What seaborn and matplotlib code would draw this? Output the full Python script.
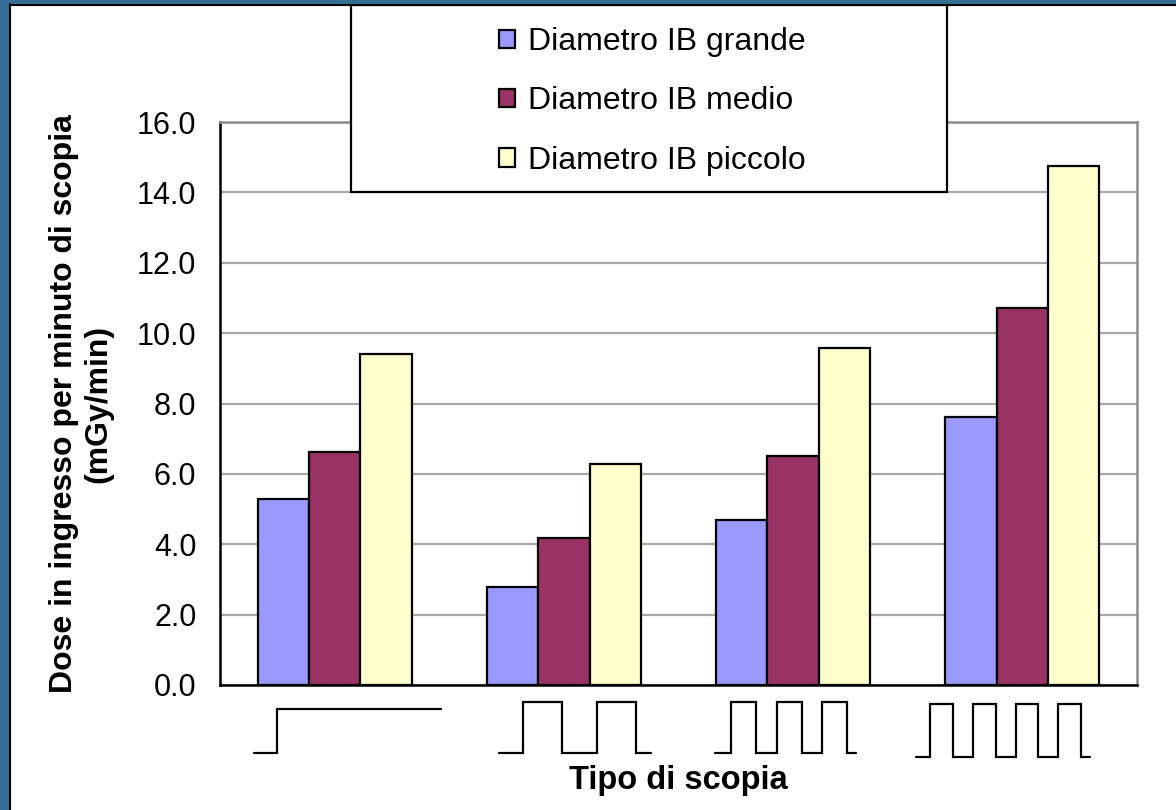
import numpy as np
import pandas as pd
import matplotlib
matplotlib.use("Agg")
import matplotlib.pyplot as plt
import matplotlib.transforms as mtransforms
from matplotlib.patches import Rectangle
from matplotlib.lines import Line2D
import seaborn as sns

# ---------------- data ----------------
categories = ["Continua", "Pulsata bassa", "Pulsata media", "Pulsata alta"]
pulses = [0, 2, 3, 4]  # pulses drawn in the category icon (0 = continuous)
series = ["Diametro IB grande", "Diametro IB medio", "Diametro IB piccolo"]
grande = [5.3, 2.78, 4.69, 7.61]
medio = [6.62, 4.19, 6.51, 10.70]
piccolo = [9.41, 6.27, 9.57, 14.76]
colors = ["#9999FF", "#993366", "#FFFFCC"]
y_ticks = [0, 2, 4, 6, 8, 10, 12, 14, 16]

df = pd.DataFrame({
    "tipo": categories * 3,
    "diametro": [series[0]] * 4 + [series[1]] * 4 + [series[2]] * 4,
    "dose": grande + medio + piccolo,
})

sns.set_style("white")
plt.rcParams["font.family"] = ["Liberation Sans", "DejaVu Sans"]
plt.rcParams["text.color"] = "black"
plt.rcParams["axes.labelcolor"] = "black"
plt.rcParams["xtick.color"] = "black"
plt.rcParams["ytick.color"] = "black"

W, H = 1176, 810
fig = plt.figure(figsize=(W / 100, H / 100), dpi=100)
fig.patch.set_facecolor("white")

ax_l, ax_r, ax_t, ax_b = 220, 1137, 122, 685
ax = fig.add_axes([ax_l / W, 1 - ax_b / H, (ax_r - ax_l) / W, (ax_b - ax_t) / H])

sns.barplot(data=df, x="tipo", y="dose", hue="diametro", hue_order=series,
            order=categories, palette=colors, edgecolor="black", linewidth=1.6,
            width=0.672, gap=0, saturation=1, ax=ax, zorder=3)

handles, labels = ax.get_legend_handles_labels()
if ax.get_legend() is not None:
    ax.get_legend().remove()

ax.set_ylim(0, 16)
ax.set_xlim(-0.5, len(categories) - 0.5)
ax.set_yticks(y_ticks)
ax.set_yticklabels([f"{v:.1f}" for v in y_ticks], fontsize=22, color="black")
ax.set_xticks(np.arange(len(categories) + 1) - 0.5)
ax.set_xticklabels([""] * (len(categories) + 1))
ax.tick_params(axis="both", direction="out", length=7, width=1.6, color="black")
ax.tick_params(axis="y", pad=10)
ax.yaxis.grid(True, color="#A8A8A8", linewidth=1.6, zorder=0)
ax.set_axisbelow(True)

for side in ["left", "bottom"]:
    ax.spines[side].set_color("black")
    ax.spines[side].set_linewidth(1.8)
for side in ["top", "right"]:
    ax.spines[side].set_color("#8C8C8C")
    ax.spines[side].set_linewidth(1.8)
    ax.spines[side].set_visible(True)

ax.set_ylabel("Dose in ingresso per minuto di scopia\n(mGy/min)", fontsize=23,
              fontweight="bold", va="center", ha="center", linespacing=1.2,
              color="black")
ax.yaxis.set_label_coords((81 - ax_l) / (ax_r - ax_l), 0.5)
ax.set_xlabel("Tipo di scopia", fontsize=23.5, fontweight="bold", va="center",
              color="black")
ax.xaxis.set_label_coords(0.5, (ax_b - 780) / (ax_b - ax_t))

# ---------------- category icons (pulse waveforms) ----------------
cat_px = (ax_r - ax_l) / len(categories)
# style per icon: start offset, lead, pulse width, period, tail (pixels), low/high y (axes frac)
icon_style = [
    dict(start=-81, lead=23, width=164, period=0, tail=0, low=-0.121, high=-0.043),
    dict(start=-65, lead=24, width=39, period=74, tail=15, low=-0.121, high=-0.030),
    dict(start=-78, lead=16, width=25, period=45.5, tail=9, low=-0.121, high=-0.030),
    dict(start=-106, lead=14, width=22.5, period=42.7, tail=9, low=-0.128, high=-0.034),
]
trans = mtransforms.blended_transform_factory(ax.transData, ax.transAxes)
for i, n in enumerate(pulses):
    st = icon_style[i]
    x0 = st["start"]
    xs, ys = [x0], [st["low"]]
    x = x0 + st["lead"]
    xs.append(x); ys.append(st["low"])
    if n == 0:
        xs += [x, x + st["width"]]
        ys += [st["high"], st["high"]]
    else:
        for k in range(n):
            xr = x + k * st["period"]
            xf = xr + st["width"]
            xs += [xr, xf, xf]
            ys += [st["high"], st["high"], st["low"]]
            if k < n - 1:
                xs.append(xr + st["period"]); ys.append(st["low"])
        xs.append(xs[-1] + st["tail"]); ys.append(st["low"])
    xd = [i + v / cat_px for v in xs]
    ax.plot(xd, ys, color="black", linewidth=1.6, transform=trans,
            clip_on=False, solid_joinstyle="miter")

# ---------------- legend box ----------------
lx0, lx1, ly0, ly1 = 351, 947, 5, 192
fig.patches.append(Rectangle((lx0 / W, 1 - ly1 / H), (lx1 - lx0) / W, (ly1 - ly0) / H,
                             transform=fig.transFigure, facecolor="white",
                             edgecolor="black", linewidth=1.6, zorder=5))
leg = fig.legend(handles, labels, loc="upper left",
                 bbox_to_anchor=(499 / W, 1 - 27 / H), bbox_transform=fig.transFigure,
                 frameon=False, fontsize=23, handlelength=0.5, handleheight=0.5,
                 handletextpad=0.4, labelspacing=0.92, borderpad=0, borderaxespad=0)
leg.set_zorder(6)
for t in leg.get_texts():
    t.set_color("black")
for h in leg.legend_handles:
    h.set_edgecolor("black")
    h.set_linewidth(1.6)

# ---------------- outer frame ----------------
frame_blue = "#346E95"
fig.patches.append(Rectangle((0, 0), 9 / W, 1, transform=fig.transFigure,
                             facecolor=frame_blue, edgecolor="none", zorder=7))
fig.patches.append(Rectangle((0, 1 - 4 / H), 1, 4 / H, transform=fig.transFigure,
                             facecolor=frame_blue, edgecolor="none", zorder=7))
fig.lines.append(Line2D([10 / W, 10 / W], [0, 1 - 4 / H], transform=fig.transFigure,
                        color="black", linewidth=1.5, zorder=8))
fig.lines.append(Line2D([10 / W, 1], [1 - 5 / H, 1 - 5 / H], transform=fig.transFigure,
                        color="black", linewidth=1.5, zorder=8))

fig.savefig("out.png", dpi=100, facecolor="white")
